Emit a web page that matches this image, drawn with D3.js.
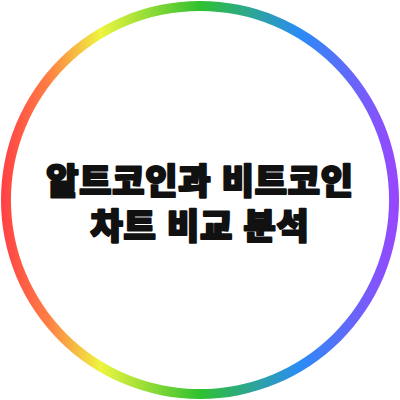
<!DOCTYPE html>
<html lang="ko">
<head>
<meta charset="utf-8">
<title>알트코인과 비트코인 차트 비교 분석</title>
<script src="https://d3js.org/d3.v7.min.js"></script>
<style>
  html, body { margin: 0; padding: 0; background: #fff; }
  svg { display: block; }
</style>
</head>
<body>
<svg id="chart" width="400" height="400"></svg>
<script>
// title text, one entry per line
var titleLines = ["알트코인과 비트코인", "차트 비교 분석"];

// ring gradient stops, left to right
var stopOffsets = [0, 0.12, 0.25, 0.5, 0.75, 1];
var stopColors = ["#ff3f45", "#ff7f45", "#eef53f", "#2fc12f", "#2a8cf5", "#9b45ff"];

var width = 400, height = 400;
var cx = width / 2, cy = height / 2;
var ringRadius = 194, ringWidth = 10;

var svg = d3.select("#chart");

//******** gradient ********//
// userSpaceOnUse is read in the ring's own (translated) coordinates
var grad = svg.append("defs")
  .append("linearGradient")
  .attr("id", "ringGrad")
  .attr("gradientUnits", "userSpaceOnUse")
  .attr("x1", -ringRadius - ringWidth / 2)
  .attr("x2", ringRadius + ringWidth / 2)
  .attr("y1", 0)
  .attr("y2", 0);

grad.selectAll("stop")
  .data(stopOffsets)
  .enter()
  .append("stop")
  .attr("offset", function (d) { return d; })
  .attr("stop-color", function (d, i) { return stopColors[i]; });

//******** ring ********//
var arc = d3.arc()
  .innerRadius(ringRadius - ringWidth / 2)
  .outerRadius(ringRadius + ringWidth / 2)
  .startAngle(0)
  .endAngle(2 * Math.PI);

svg.append("path")
  .attr("transform", "translate(" + cx + "," + cy + ")")
  .attr("d", arc())
  .attr("fill", "url(#ringGrad)");

//******** title ********//
// one text block, a tspan per line
var lineY = d3.scalePoint()
  .domain(d3.range(titleLines.length))
  .range([178, 223.5]);

var title = svg.append("text")
  .attr("class", "title")
  .attr("text-anchor", "middle")
  .style("font-family", "'Noto Sans CJK KR', 'Noto Sans', sans-serif")
  .style("font-weight", 900)
  .style("font-size", "35px")
  .style("letter-spacing", "0.8px")
  .style("fill", "#111")
  .style("stroke", "#111")
  .style("stroke-width", "2.2px")
  .style("stroke-linejoin", "round");

title.selectAll("tspan")
  .data(titleLines)
  .enter()
  .append("tspan")
  .attr("x", cx)
  .attr("y", function (d, i) { return lineY(i); })
  .attr("dominant-baseline", "central")
  .text(function (d) { return d; });
</script>
</body>
</html>
